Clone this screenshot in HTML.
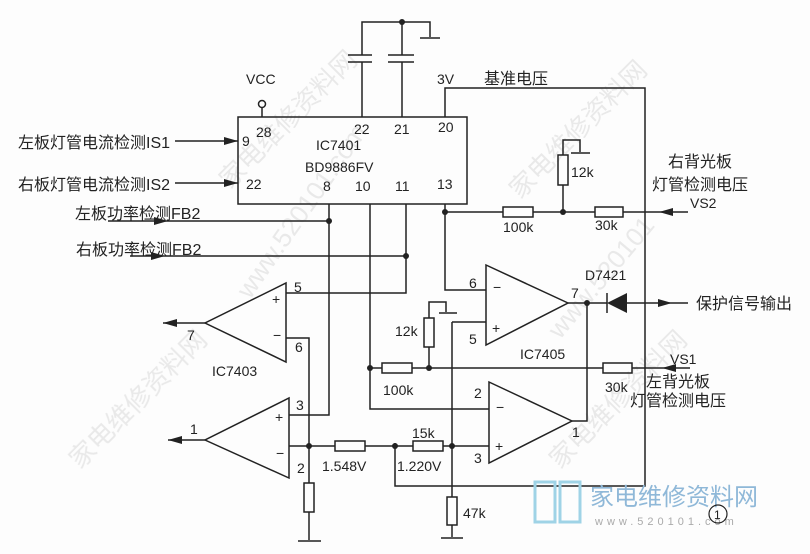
<!DOCTYPE html>
<html><head><meta charset="utf-8"><style>
html,body{margin:0;padding:0;background:#fff}
svg{display:block}
text{font-family:"Liberation Sans","Noto Sans CJK SC",sans-serif;fill:#222}
.cn{font-size:16px}
</style></head><body>
<svg width="810" height="554" viewBox="0 0 810 554" xmlns="http://www.w3.org/2000/svg">
<rect width="810" height="554" fill="#fdfdfd"/>
<g font-size="26" style="fill:#e6e6e6" opacity="0.8">
<text x="0" y="0" transform="translate(230,190) rotate(-45)" style="fill:#e4e4e4">家电维修资料网</text>
<text x="0" y="0" transform="translate(250,300) rotate(-55)" style="fill:#e4e4e4">www.520101.com</text>
<text x="0" y="0" transform="translate(520,200) rotate(-45)" style="fill:#e4e4e4">家电维修资料网</text>
<text x="0" y="0" transform="translate(560,340) rotate(-50)" style="fill:#e4e4e4">www.520101</text>
<text x="0" y="0" transform="translate(80,470) rotate(-45)" style="fill:#e4e4e4">家电维修资料网</text>
<text x="0" y="0" transform="translate(560,470) rotate(-45)" style="fill:#e4e4e4">家电维修资料网</text>
</g>
<g fill="none" stroke="#222" stroke-width="1.5">
<rect x="238" y="117" width="229" height="87"/>
<circle cx="262" cy="104" r="3.5"/><line x1="262" y1="108" x2="262" y2="117"/>
<polyline points="362,117 362,62"/><polyline points="362,55 362,22 430,22 430,37"/>
<line x1="420" y1="38" x2="440" y2="38"/>
<polyline points="402,117 402,62"/><line x1="402" y1="55" x2="402" y2="22"/>
<line x1="348" y1="55" x2="372" y2="55"/><line x1="348" y1="62" x2="372" y2="62"/>
<line x1="388" y1="55" x2="414" y2="55"/><line x1="388" y1="62" x2="414" y2="62"/>
<polyline points="445,117 445,88 645,88 645,486 395,486 395,443"/>
<line x1="175" y1="141" x2="238" y2="141"/>
<line x1="175" y1="183" x2="238" y2="183"/>
<line x1="108" y1="221" x2="329" y2="221"/>
<line x1="130" y1="256" x2="406" y2="256"/>
<polyline points="329,204 329,415 289,415"/>
<polyline points="370,204 370,409 489,409"/>
<polyline points="406,204 406,293 286,293"/>
<polyline points="445,204 445,290 486,290"/>
<line x1="445" y1="212" x2="503" y2="212"/>
<rect x="503" y="207" width="30" height="10"/>
<line x1="533" y1="212" x2="595" y2="212"/>
<rect x="595" y="207" width="28" height="10"/>
<line x1="623" y1="212" x2="688" y2="212"/>
<rect x="558" y="155" width="10" height="30"/>
<line x1="563" y1="185" x2="563" y2="212"/>
<polyline points="563,155 563,140 580,140 580,152"/>
<line x1="571" y1="153" x2="590" y2="153"/>
<polygon points="486,265 486,345 568,303"/>
<line x1="568" y1="303" x2="607" y2="303"/>
<line x1="627" y1="303" x2="688" y2="303"/>
<line x1="607" y1="293" x2="607" y2="313"/>
<polyline points="452,322 486,322"/>
<line x1="452" y1="322" x2="452" y2="497"/>
<rect x="447" y="497" width="10" height="28"/>
<line x1="452" y1="525" x2="452" y2="537"/>
<line x1="441" y1="538" x2="463" y2="538"/>
<rect x="424" y="318" width="10" height="29"/>
<line x1="429" y1="347" x2="429" y2="368"/>
<polyline points="429,318 429,302 446,302 446,312"/>
<line x1="439" y1="313" x2="457" y2="313"/>
<line x1="370" y1="368" x2="382" y2="368"/>
<rect x="382" y="363" width="30" height="10"/>
<line x1="412" y1="368" x2="603" y2="368"/>
<rect x="603" y="363" width="29" height="10"/>
<line x1="632" y1="368" x2="690" y2="368"/>
<polygon points="489,382 489,463 572,421"/>
<polyline points="572,421 587,421 587,303"/>
<polygon points="286,283 286,362 205,323"/>
<line x1="205" y1="323" x2="163" y2="323"/>
<polyline points="286,338 309,338 309,483"/>
<polygon points="289,398 289,478 205,440"/>
<line x1="205" y1="440" x2="168" y2="440"/>
<polyline points="289,446 309,446"/>
<line x1="309" y1="446" x2="335" y2="446"/>
<rect x="335" y="441" width="30" height="10"/>
<line x1="365" y1="446" x2="413" y2="446"/>
<rect x="413" y="441" width="30" height="10"/>
<line x1="443" y1="446" x2="489" y2="446"/>
<rect x="304" y="483" width="10" height="29"/>
<line x1="309" y1="512" x2="309" y2="540"/>
<line x1="298" y1="541" x2="321" y2="541"/>
</g>
<g fill="#222">
<circle cx="402" cy="22" r="3"/>
<circle cx="329" cy="221" r="3"/><circle cx="406" cy="256" r="3"/>
<circle cx="445" cy="212" r="3"/><circle cx="563" cy="212" r="3"/>
<circle cx="587" cy="303" r="3"/><circle cx="370" cy="368" r="3"/>
<circle cx="429" cy="368" r="3"/><circle cx="309" cy="446" r="3"/>
<circle cx="395" cy="446" r="3"/><circle cx="452" cy="446" r="3"/>
<polygon points="238,141 224,137 224,145"/>
<polygon points="238,183 224,179 224,187"/>
<polygon points="168,221 154,217 154,225"/>
<polygon points="165,256 151,252 151,260"/>
<polygon points="659,212 673,208 673,216"/>
<polygon points="662,368 676,364 676,372"/>
<polygon points="672,303 658,299 658,307"/>
<polygon points="163,323 177,319 177,327"/>
<polygon points="168,440 182,436 182,444"/>
<polygon points="607,303 627,293 627,313"/>
</g>
<g font-size="14">
<text x="246" y="84">VCC</text>
<text x="437" y="84">3V</text>
<text x="484" y="84" class="cn">基准电压</text>
<text x="242" y="146">9</text><text x="256" y="137">28</text>
<text x="354" y="134">22</text><text x="394" y="134">21</text><text x="438" y="132">20</text>
<text x="316" y="150">IC7401</text><text x="305" y="172">BD9886FV</text>
<text x="246" y="189">22</text><text x="323" y="191">8</text>
<text x="355" y="191">10</text><text x="395" y="191">11</text><text x="437" y="189">13</text>
<text x="18" y="148" class="cn">左板灯管电流检测IS1</text>
<text x="18" y="190" class="cn">右板灯管电流检测IS2</text>
<text x="75" y="219" class="cn">左板功率检测FB2</text>
<text x="76" y="255" class="cn">右板功率检测FB2</text>
<text x="571" y="177">12k</text>
<text x="503" y="232">100k</text><text x="595" y="230">30k</text>
<text x="668" y="167" class="cn">右背光板</text>
<text x="652" y="190" class="cn">灯管检测电压</text>
<text x="690" y="208">VS2</text>
<text x="585" y="280">D7421</text>
<text x="571" y="298">7</text>
<text x="469" y="288">6</text><text x="469" y="344">5</text>
<text x="493" y="292">−</text><text x="492" y="333">+</text>
<text x="696" y="309" class="cn">保护信号输出</text>
<text x="520" y="359">IC7405</text>
<text x="395" y="336">12k</text>
<text x="383" y="395">100k</text><text x="605" y="392">30k</text>
<text x="670" y="364">VS1</text>
<text x="646" y="387" class="cn">左背光板</text>
<text x="630" y="406" class="cn">灯管检测电压</text>
<text x="474" y="398">2</text><text x="474" y="463">3</text>
<text x="496" y="412">−</text><text x="495" y="451">+</text>
<text x="572" y="437">1</text>
<text x="294" y="292">5</text><text x="295" y="352">6</text>
<text x="272" y="304">+</text><text x="273" y="340">−</text>
<text x="187" y="340">7</text><text x="212" y="376">IC7403</text>
<text x="296" y="410">3</text><text x="297" y="473">2</text>
<text x="275" y="422">+</text><text x="276" y="458">−</text>
<text x="190" y="434">1</text>
<text x="322" y="471">1.548V</text><text x="397" y="471">1.220V</text>
<text x="412" y="438">15k</text><text x="463" y="518">47k</text>
</g>
<g fill="none" stroke="#9fd3e6" stroke-width="3">
<rect x="535" y="482" width="20" height="40"/><rect x="560" y="482" width="20" height="40"/>
</g>
<text x="590" y="505" font-size="24" style="fill:#8fb8d8">家电维修资料网</text>
<text x="595" y="525" font-size="11" style="fill:#aaa" letter-spacing="4">www.520101.com</text>
<circle cx="718" cy="514" r="9" fill="none" stroke="#222" stroke-width="1.2"/>
<text x="714" y="519" font-size="12">1</text>
</svg>
</body></html>
